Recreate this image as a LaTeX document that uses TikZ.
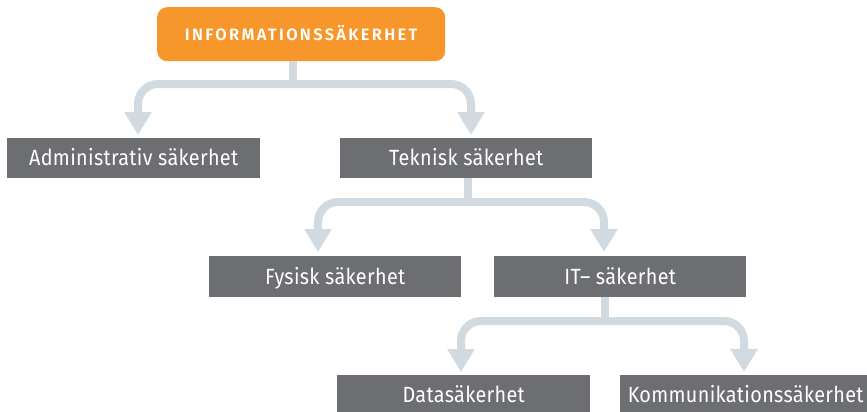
\documentclass[tikz,border=0pt]{standalone}
\usepackage{fontspec}
\setmainfont[FakeStretch=0.9,LetterSpace=1.5]{Fira Sans}
\newfontfamily\titlefont[LetterSpace=14]{Fira Sans SemiBold}
\usetikzlibrary{arrows.meta}
\definecolor{orangebox}{HTML}{F7962B}
\definecolor{graybox}{HTML}{6D6E71}
\definecolor{connc}{HTML}{D0DAE0}
\tikzset{
  levelbox/.style={fill=graybox, text=white, inner sep=0pt, font=\fontsize{22}{22}\selectfont,
    text height=15.5pt, text depth=0pt, anchor=north west},
  titlebox/.style={fill=orangebox, text=white, rounded corners=10pt, inner sep=0pt,
    font=\titlefont\fontsize{16.5}{16.5}\selectfont, text height=12pt, text depth=0pt, anchor=north west},
  conn/.style={draw=connc, line width=8pt},
  arr/.style={conn, rounded corners=20pt, -{Triangle[width=26pt,length=23pt]}}
}
\begin{document}
\begin{tikzpicture}[x=1pt,y=-1pt]
\useasboundingbox (0,0) rectangle (867,412);
% boxes
\node[titlebox, minimum width=288pt, minimum height=54pt] (info) at (157,7) {INFORMATIONSSÄKERHET};
\node[levelbox, minimum width=253pt, minimum height=40pt] (admin) at (7,138) {Administrativ säkerhet};
\node[levelbox, minimum width=252pt, minimum height=40pt] (tek) at (340,138) {Teknisk säkerhet};
\node[levelbox, minimum width=252pt, minimum height=41pt] (fys) at (209,256) {Fysisk säkerhet};
\node[levelbox, minimum width=252pt, minimum height=41pt] (it) at (494,256) {IT– säkerhet};
\node[levelbox, minimum width=253pt, minimum height=40pt] (data) at (337,375) {Datasäkerhet};
\node[levelbox, minimum width=251pt, minimum height=40pt] (komm) at (620,375) {Kommunikationssäkerhet};
% junctions and branch columns
\coordinate (j1) at (293,84);
\coordinate (x1l) at (138,0);
\coordinate (x1r) at (471,0);
\coordinate (j2) at (468,202);
\coordinate (x2l) at (318,0);
\coordinate (x2r) at (604,0);
\coordinate (j3) at (605,321);
\coordinate (x3l) at (461,0);
\coordinate (x3r) at (744,0);
% connectors
\draw[conn] (j1 |- info.south) -- ([yshift=4pt]j1);
\draw[arr, shorten >=3pt] (j1) -| (admin.north -| x1l);
\draw[arr, shorten >=3pt] (j1) -| (tek.north -| x1r);
\draw[conn] (j2 |- tek.south) -- ([yshift=4pt]j2);
\draw[arr, shorten >=4pt] (j2) -| (fys.north -| x2l);
\draw[arr, shorten >=4pt] (j2) -| (it.north -| x2r);
\draw[conn] (j3 |- it.south) -- ([yshift=4pt]j3);
\draw[arr, shorten >=3pt] (j3) -| (data.north -| x3l);
\draw[arr, shorten >=3pt] (j3) -| (komm.north -| x3r);
\end{tikzpicture}
\end{document}
